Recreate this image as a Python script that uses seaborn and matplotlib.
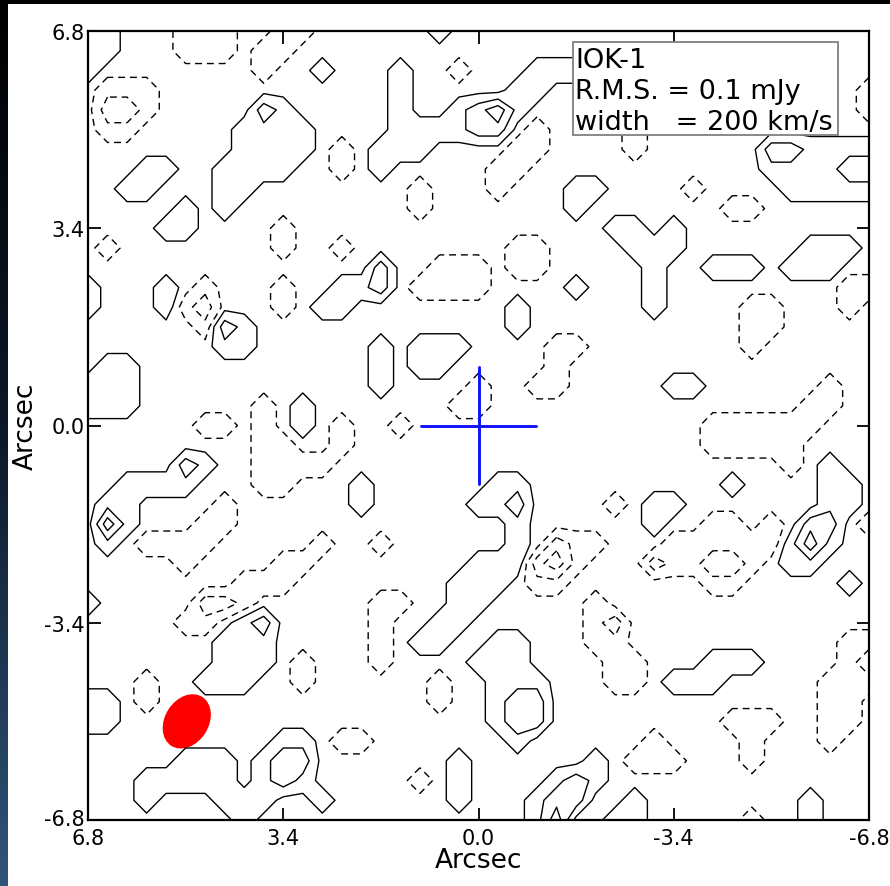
import numpy as np
import matplotlib
matplotlib.use("Agg")
import matplotlib.pyplot as plt
from matplotlib.patches import Ellipse, Rectangle
from matplotlib.colors import LinearSegmentedColormap
from matplotlib.transforms import ScaledTranslation
import seaborn as sns

# ---------------------------------------------------------------------------
# Data read from the reference map: signed number of contours enclosing each
# sample point of a 41 x 41 grid (rows: Dec +6.8 -> -6.8, cols: RA +6.8 -> -6.8).
# '.' = 0, '1','2','3' = inside 1,2,3 positive contours, 'a','b','c' = negative.
# ---------------------------------------------------------------------------
CODE = {'.': 0, '1': 1, '2': 2, '3': 3, 'a': -1, 'b': -2, 'c': -3}
contour_map = [
    "11...aaa..aa......1......................",
    "11...aaa.aa..............................",
    "1........a..1...1..a...111...............",
    ".aaa............1.....11................a",
    ".bba.....21.....1..1231.................a",
    ".aa.....1111....111122.a....a............",
    "........1111.a.111....aa....a......221111",
    "...11..1111..a.1.....aa............111122",
    "..11...11........a...a...11....a....11111",
    ".....1.1.........a.......1.......aa......",
    "....11....a................11.1..........",
    ".a........a..a........aa....111......111.",
    "...............2..aaa.aa.....1..111.111..",
    "1...1.a...a..112.aaaa....1...1.........aa",
    "1...1ab...a.11........1......1....aa...a.",
    "......a21.............1...........aa.....",
    ".......11......1.111....aa........a......",
    ".11............1.11.....a................",
    "111............1....a..aa.....11......a..",
    "111......a.1.......aa................aa..",
    "......aa.a.1.a..a...............aaaaaa...",
    ".........aa..a..................aaaaa....",
    ".....21..aaaa.......................a.1..",
    "..1111...aa...1......11..........1....11.",
    ".11....a......1.....112....a.11.......11.",
    ".31...aa..............1......1..aa.a.22.a",
    ".1.aaaa.....a..a......1.baa...aaaaaa131..",
    ".....a....aa........111bca...baabba.11...",
    "........aaa........111.aa.......aa.....1.",
    "1.....bba......aa..11.....a..............",
    ".....aa.12.....a..11......ab.............",
    ".......111.....a.11..11...aa...........aa",
    ".......111.a...a....111....aa...111....ab",
    "...a..111..a......a..111...aa.111.....aaa",
    "11.a..............a..122..............aa.",
    "11...................122.........aaa..aa.",
    "..........11.aa.......1......a....a...a..",
    ".....111.122.......1......1.aaa...a......",
    "...11111.121.....a.1....121..............",
    "...1...111..1......1...122..1........1...",
    "........1..............13..11.....a..1...",
]

map_extent = 6.8
contour_levels = [-2.35, -1.35, -0.35, 0.35, 1.35, 2.35]
tick_values = [6.8, 3.4, 0.0, -3.4, -6.8]
tick_labels = ["6.8", "3.4", "0.0", "-3.4", "-6.8"]
axis_label = "Arcsec"

# source position cross (arcsec)
cross_h_ra = [1.0, -1.0]
cross_h_dec = [0.0, 0.0]
cross_v_ra = [0.0, 0.0]
cross_v_dec = [1.0, -1.0]

# synthesized beam (arcsec, degrees in data frame)
beam_ra, beam_dec = 5.08, -5.10
beam_major, beam_minor, beam_angle = 1.0, 0.76, 123

info_lines = ["IOK-1", "R.M.S. = 0.1 mJy", "width   = 200 km/s"]

# ---------------------------------------------------------------------------
sns.set_style("ticks")
plt.rcParams["font.family"] = ["DejaVu Sans"]
plt.rcParams["lines.dashed_pattern"] = [5.0, 3.5]
plt.rcParams["text.color"] = "black"
plt.rcParams["axes.labelcolor"] = "black"
plt.rcParams["xtick.color"] = "black"
plt.rcParams["ytick.color"] = "black"

W, H = 890, 887
fig = plt.figure(figsize=(W / 100, H / 100), dpi=100)
fig.patch.set_facecolor("white")

# screenshot framing: dark top band and left gradient strip
grad_ax = fig.add_axes([0, 0, 8 / W, 1])
grad = np.linspace(0, 1, 256).reshape(-1, 1)
grad_ax.imshow(grad, aspect="auto",
               cmap=LinearSegmentedColormap.from_list("strip", ["#000000", "#0d1a2a", "#30557a"]))
grad_ax.set_axis_off()
fig.patches.append(Rectangle((0, 1 - 5 / H), 1, 5 / H, transform=fig.transFigure,
                             facecolor="black", edgecolor="none"))

ax = fig.add_axes([88 / W, 1 - 821 / H, 781 / W, 789 / H])

Z = np.array([[CODE[ch] for ch in row] for row in contour_map], dtype=float)
ny, nx = Z.shape
ra = np.linspace(map_extent, -map_extent, nx)
dec = np.linspace(map_extent, -map_extent, ny)

# beam ellipse (under the contours)
ax.add_patch(Ellipse((beam_ra, beam_dec), beam_major, beam_minor, angle=beam_angle,
                     facecolor="#ff0000", edgecolor="none", zorder=1))

neg = [l for l in contour_levels if l < 0]
pos = [l for l in contour_levels if l > 0]
ax.contour(ra, dec, Z, levels=neg, colors="black", linewidths=1.0,
           linestyles="dashed", zorder=2)
ax.contour(ra, dec, Z, levels=pos, colors="black", linewidths=1.0,
           linestyles="solid", zorder=2)

# position cross
sns.lineplot(x=cross_h_ra, y=cross_h_dec, ax=ax, color="#1010ff", lw=2.1,
             estimator=None, sort=False, zorder=4)
sns.lineplot(x=cross_v_ra, y=cross_v_dec, ax=ax, color="#1010ff", lw=2.1,
             estimator=None, sort=False, zorder=4)

ax.set_xlim(map_extent, -map_extent)
ax.set_ylim(-map_extent, map_extent)
ax.set_xticks(tick_values)
ax.set_xticklabels(tick_labels)
ax.set_yticks(tick_values)
ax.set_yticklabels(tick_labels)
ax.tick_params(direction="in", length=9, width=1.3, labelsize=15,
               top=True, right=True, colors="black")
ax.tick_params(axis="x", pad=6.0)
ax.tick_params(axis="y", pad=2.5)
for sp in ax.spines.values():
    sp.set_linewidth(1.6)
    sp.set_color("black")
ax.set_xlabel(axis_label, fontsize=19, labelpad=-1, color="black")
ax.set_ylabel(axis_label, fontsize=19, labelpad=4, color="black")

# lift the lowest y tick label slightly so it does not collide with the first x label
ylab = ax.get_yticklabels()[-1]
ylab.set_transform(ylab.get_transform() + ScaledTranslation(0, 2 / 72, fig.dpi_scale_trans))

# info box
ax.add_patch(Rectangle((0.621, 0.868), 0.339, 0.118, transform=ax.transAxes,
                       facecolor="white", edgecolor="#808080", lw=1.3, zorder=5))
for line, yb in zip(info_lines, [0.954, 0.915, 0.876]):
    ax.text(0.6235, yb, line, transform=ax.transAxes, fontsize=19.5,
            va="baseline", ha="left", color="black", zorder=6)

fig.savefig("out.png", dpi=100)
